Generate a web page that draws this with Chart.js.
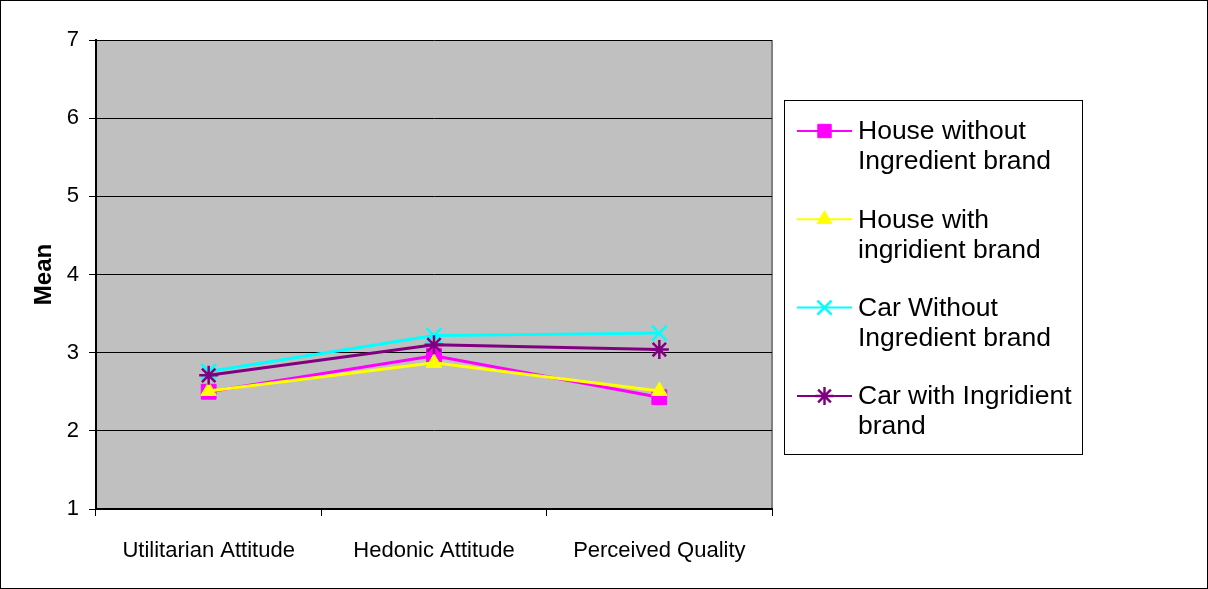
<!DOCTYPE html>
<html>
<head>
<meta charset="utf-8">
<script src="https://cdn.jsdelivr.net/npm/chart.js@4"></script>
<style>
  html, body { margin: 0; padding: 0; background: #fff; }
  #wrap { width: 1208px; height: 589px; position: relative; }
</style>
</head>
<body>
<div id="wrap"><canvas id="c" width="1208" height="589"></canvas></div>
<script>
// Categories on the x axis
const categories = ['Utilitarian Attitude', 'Hedonic Attitude', 'Perceived Quality'];

// Series names (two legend lines each)
const seriesNames = [
  ['House without', 'Ingredient brand'],
  ['House with', 'ingridient brand'],
  ['Car Without', 'Ingredient brand'],
  ['Car with Ingridient', 'brand']
];

// Mean scores per series
const houseWithout = [2.50, 2.96, 2.43];
const houseWith    = [2.51, 2.87, 2.51];
const carWithout   = [2.76, 3.22, 3.25];
const carWith      = [2.71, 3.10, 3.04];

// Y axis range
const yMin = 1;
const yMax = 7;
const yStep = 1;

const FONT = "Arial, 'Liberation Sans', Helvetica, sans-serif";

const seriesStyles = [
  { color: '#FF00FF', pointStyle: 'rect',     radius: 10.5, legendRadius: 9.5, pointBorderWidth: 1 },
  { color: '#FFFF00', pointStyle: 'triangle', radius: 9,    legendRadius: 8.5, pointBorderWidth: 1 },
  { color: '#00FFFF', pointStyle: 'crossRot', radius: 10.5, legendRadius: 10,  pointBorderWidth: 2.5 },
  { color: '#800080', pointStyle: 'star',     radius: 9.5,  legendRadius: 9,   pointBorderWidth: 2.5 }
];

const seriesValues = [houseWithout, houseWith, carWithout, carWith];

const datasets = seriesValues.map((vals, i) => ({
  label: seriesNames[i].join(' '),
  legendLines: seriesNames[i],
  data: vals,
  order: seriesValues.length - 1 - i,
  borderColor: seriesStyles[i].color,
  backgroundColor: seriesStyles[i].color,
  pointBackgroundColor: seriesStyles[i].color,
  pointBorderColor: seriesStyles[i].color,
  pointStyle: seriesStyles[i].pointStyle,
  pointRadius: seriesStyles[i].radius,
  pointBorderWidth: seriesStyles[i].pointBorderWidth,
  borderWidth: 3,
  tension: 0,
  fill: false
}));

// Gray plot area, border, outer frame
const frame = {
  id: 'frame',
  beforeDraw(chart) {
    const { ctx, chartArea: a } = chart;
    ctx.save();
    ctx.fillStyle = '#fff';
    ctx.fillRect(0, 0, chart.width, chart.height);
    ctx.fillStyle = '#C0C0C0';
    ctx.fillRect(a.left, a.top, a.right - a.left, a.bottom - a.top);
    ctx.strokeStyle = '#808080';
    ctx.lineWidth = 2;
    ctx.beginPath();
    ctx.moveTo(a.right, a.top);
    ctx.lineTo(a.right, a.bottom);
    ctx.stroke();
    ctx.restore();
  },
  afterDraw(chart) {
    const { ctx } = chart;
    ctx.save();
    ctx.strokeStyle = '#000';
    ctx.lineWidth = 1;
    ctx.strokeRect(0.5, 0.5, chart.width - 1, chart.height - 1);
    ctx.restore();
  }
};

// Boxed legend to the right of the plot, two text lines per entry
const boxLegend = {
  id: 'boxLegend',
  afterDraw(chart) {
    const { ctx, chartArea: a } = chart;
    const left = a.right + 12;
    const top = 100;
    const width = 298;
    const height = 354;
    ctx.save();
    ctx.fillStyle = '#fff';
    ctx.fillRect(left, top, width, height);
    ctx.strokeStyle = '#000';
    ctx.lineWidth = 1;
    ctx.strokeRect(left + 0.5, top + 0.5, width, height);

    ctx.font = '26.5px ' + FONT;
    ctx.textBaseline = 'middle';
    ctx.textAlign = 'left';
    chart.data.datasets.forEach((ds, i) => {
      const y = top + 31 + i * 88.3;
      const x0 = left + 13;
      const x1 = left + 68;
      ctx.strokeStyle = ds.borderColor;
      ctx.lineWidth = 2;
      ctx.beginPath();
      ctx.moveTo(x0, y);
      ctx.lineTo(x1, y);
      ctx.stroke();
      ctx.fillStyle = ds.pointBackgroundColor;
      ctx.strokeStyle = ds.pointBorderColor;
      ctx.lineWidth = seriesStyles[i].pointBorderWidth;
      Chart.helpers.drawPoint(ctx, {
        pointStyle: ds.pointStyle,
        radius: seriesStyles[i].legendRadius,
        rotation: 0,
        borderWidth: seriesStyles[i].pointBorderWidth
      }, (x0 + x1) / 2, y);
      ctx.fillStyle = '#000';
      ds.legendLines.forEach((t, j) => {
        ctx.fillText(t, left + 74, y + 1 + j * 30);
      });
    });
    ctx.restore();
  }
};

new Chart(document.getElementById('c'), {
  type: 'line',
  data: { labels: categories, datasets },
  plugins: [frame, boxLegend],
  options: {
    responsive: false,
    animation: false,
    devicePixelRatio: 1,
    layout: { padding: { top: 40, right: 436, left: 0, bottom: 0 } },
    plugins: {
      legend: { display: false },
      tooltip: { enabled: false }
    },
    scales: {
      x: {
        offset: true,
        afterFit(scale) { scale.height = 80; },
        grid: {
          offset: true,
          drawOnChartArea: false,
          drawTicks: true,
          tickLength: 7,
          tickColor: '#000',
          tickWidth: 1
        },
        border: { color: '#000', width: 2 },
        ticks: {
          color: '#000',
          padding: 22,
          maxRotation: 0,
          font: { family: FONT, size: 22 }
        }
      },
      y: {
        min: yMin,
        max: yMax,
        afterFit(scale) { scale.width = 96; },
        grid: {
          color: '#000',
          lineWidth: 1,
          tickLength: 7,
          tickColor: '#000'
        },
        border: { color: '#000', width: 2 },
        ticks: {
          stepSize: yStep,
          color: '#000',
          padding: 10,
          font: { family: FONT, size: 22 }
        },
        title: {
          display: true,
          text: 'Mean',
          color: '#000',
          padding: { top: 30, bottom: 0 },
          font: { family: FONT, size: 24, weight: 'bold' }
        }
      }
    }
  }
});
</script>
</body>
</html>
